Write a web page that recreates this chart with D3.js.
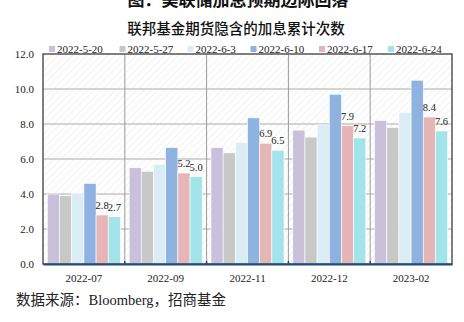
<!DOCTYPE html>
<html><head><meta charset="utf-8">
<script src="https://cdn.jsdelivr.net/npm/d3@7/dist/d3.min.js"></script>
<style>body{margin:0;background:#fff}svg{display:block}.serif{font-family:"Liberation Serif","Times New Roman",serif}</style>
</head><body>
<script>
const categories = ["2022-07","2022-09","2022-11","2022-12","2023-02"];
const seriesNames = ["2022-5-20","2022-5-27","2022-6-3","2022-6-10","2022-6-17","2022-6-24"];
const s0520 = [4.0, 5.5, 6.65, 7.65, 8.2];
const s0527 = [3.9, 5.3, 6.35, 7.25, 7.8];
const s0603 = [4.05, 5.7, 6.95, 7.95, 8.65];
const s0610 = [4.6, 6.65, 8.35, 9.7, 10.5];
const s0617 = [2.8, 5.2, 6.9, 7.9, 8.4];
const s0624 = [2.7, 5.0, 6.5, 7.2, 7.6];
const seriesValues = [s0520, s0527, s0603, s0610, s0617, s0624];
const labeledSeries = [4, 5];
const yTicks = [0, 2, 4, 6, 8, 10, 12];
const colors = ["#c9c0dc","#c8c8c8","#dbedf4","#8fb3e1","#e6b6b6","#a2e4ea"];

const W = 464, H = 322;
const svg = d3.select("body").append("svg").attr("width", W).attr("height", H);
const defs = svg.append("defs");
const pat = defs.append("pattern").attr("id","hatch").attr("patternUnits","userSpaceOnUse")
  .attr("width",5).attr("height",5).attr("patternTransform","rotate(45)");
pat.append("rect").attr("width",5).attr("height",5).attr("fill","#ffffff");
pat.append("line").attr("x1",0).attr("y1",0).attr("x2",0).attr("y2",5)
  .attr("stroke","#e8e8e8").attr("stroke-width",1.2);

const L = 43, R = 452, T = 54, B = 264;
const x = d3.scaleBand().domain(categories).range([L, R]).paddingInner(0).paddingOuter(0);
const xs = d3.scaleBand().domain(d3.range(seriesNames.length)).range([0, x.bandwidth()]).paddingInner(0).paddingOuter(0.36);
const y = d3.scaleLinear().domain([0, 12]).range([B, T]);

// titles
svg.append("text").attr("x", 238).attr("y", 6).attr("text-anchor","middle")
  .style("font-family","'Noto Sans CJK SC'").attr("font-weight","bold").attr("font-size",17).attr("fill","#111")
  .text("图：美联储加息预期边际回落");
svg.append("text").attr("x", 236).attr("y", 34).attr("text-anchor","middle")
  .style("font-family","'Noto Sans CJK SC'").attr("font-weight","500").attr("font-size",14.5).attr("fill","#111")
  .text("联邦基金期货隐含的加息累计次数");

// plot background
svg.append("rect").attr("x",L).attr("y",T).attr("width",R-L).attr("height",B-T).attr("fill","url(#hatch)");

// horizontal gridlines
svg.append("g").selectAll("line").data(yTicks.filter(d => d > 0 && d < 12)).join("line")
  .attr("x1",L).attr("x2",R).attr("y1",d=>y(d)).attr("y2",d=>y(d))
  .attr("stroke","#d4d4d4").attr("stroke-width",2);
// vertical gridlines at category boundaries
svg.append("g").selectAll("line").data(categories.slice(1)).join("line")
  .attr("x1",d=>x(d)).attr("x2",d=>x(d)).attr("y1",T).attr("y2",B)
  .attr("stroke","#9a9a9a").attr("stroke-width",1);

// bars
const groups = svg.append("g").selectAll("g").data(seriesValues).join("g")
  .attr("fill",(d,i)=>colors[i]);
groups.each(function(vals, si){
  d3.select(this).selectAll("rect").data(vals).join("rect")
    .attr("x",(v,ci)=>x(categories[ci]) + xs(si))
    .attr("width", xs.bandwidth())
    .attr("y", v=>y(v)).attr("height", v=>y(0)-y(v))
    .attr("stroke","#ffffff").attr("stroke-width",0.6);
});

// labels
labeledSeries.forEach(si => {
  svg.append("g").selectAll("text").data(seriesValues[si]).join("text")
    .attr("class","serif")
    .attr("x",(v,ci)=>x(categories[ci]) + xs(si) + xs.bandwidth()/2)
    .attr("y", v=>y(v)-6)
    .attr("text-anchor","middle").attr("font-size",10.5).attr("fill","#222")
    .text(v=>v.toFixed(1));
});

// border
svg.append("rect").attr("x",L).attr("y",T).attr("width",R-L).attr("height",B-T)
  .attr("fill","none").attr("stroke","#555").attr("stroke-width",1.5);
// bottom axis
const xAxis = d3.axisBottom(x).tickSize(0).tickPadding(10);
const gx = svg.append("g").attr("transform",`translate(0,${B})`).call(xAxis);
gx.attr("font-family", null);
gx.select(".domain").attr("stroke","#1f4f7a").attr("stroke-width",2);
gx.selectAll("text").attr("class","serif").attr("font-size",11).attr("fill","#222");
gx.append("g").selectAll("line").data(categories.slice(1)).join("line")
  .attr("x1",d=>x(d)).attr("x2",d=>x(d)).attr("y1",-3).attr("y2",0)
  .attr("stroke","#1f4f7a").attr("stroke-width",1.5);

// y axis labels
const yAxis = d3.axisLeft(y).tickValues(yTicks).tickFormat(d3.format(".1f")).tickSize(0).tickPadding(9);
const gy = svg.append("g").attr("transform",`translate(${L},0)`).call(yAxis);
gy.attr("font-family", null);
gy.select(".domain").remove();
gy.selectAll("text").attr("class","serif").attr("font-size",11).attr("fill","#222");

// legend
const legendX = [49, 119.5, 187.5, 250.5, 319, 388];
const lg = svg.append("g").selectAll("g").data(seriesNames).join("g")
  .attr("transform",(d,i)=>`translate(${legendX[i]},0)`);
lg.append("rect").attr("x",0).attr("y",46).attr("width",6).attr("height",6).attr("fill",(d,i)=>colors[i]);
lg.append("text").attr("class","serif").attr("x",8).attr("y",52.5).attr("font-size",11).attr("fill","#222")
  .text(d=>d);

// source
svg.append("text").attr("x",16).attr("y",305)
  .style("font-family","'Liberation Serif','Noto Sans CJK SC',serif").attr("font-size",14.5).attr("fill","#222")
  .text("数据来源：Bloomberg，招商基金");
</script>
</body></html>
